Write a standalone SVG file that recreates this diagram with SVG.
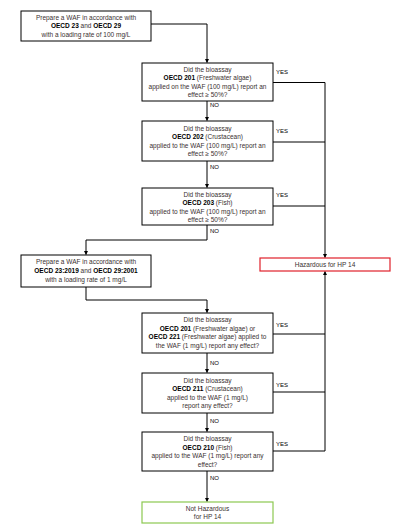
<svg xmlns="http://www.w3.org/2000/svg" width="401" height="527" viewBox="0 0 401 527">
<defs>
<marker id="ah" markerWidth="4" markerHeight="4" refX="3.5" refY="2" orient="auto" markerUnits="userSpaceOnUse">
<path d="M0,0 L4,2 L0,4 Z" fill="#000"/>
</marker>
<style>
.box{fill:#fff;stroke:#000;stroke-width:1}
.red{fill:#fff;stroke:#e0202a;stroke-width:1.2}
.green{fill:#fff;stroke:#8cc850;stroke-width:1.2}
.t{font-family:"Liberation Sans",Arial,sans-serif;font-size:6.5px;fill:#3a3030;text-anchor:middle}
.l{font-family:"Liberation Sans",Arial,sans-serif;font-size:6px;fill:#000}
.b{font-weight:bold;fill:#000}
.c{fill:none;stroke:#000;stroke-width:1}
</style>
</defs>
<rect width="401" height="527" fill="#fff"/>
<g id="connectors">
<path class="c" d="M151,24 H207 V62.5" marker-end="url(#ah)"/>
<path class="c" d="M207,101 V120.5" marker-end="url(#ah)"/>
<path class="c" d="M207,161 V187.5" marker-end="url(#ah)"/>
<path class="c" d="M207,225 V240 H86 V254.5" marker-end="url(#ah)"/>
<path class="c" d="M86,287 V300 H207 V312.5" marker-end="url(#ah)"/>
<path class="c" d="M207,353 V372.5" marker-end="url(#ah)"/>
<path class="c" d="M207,413 V431.5" marker-end="url(#ah)"/>
<path class="c" d="M207,471 V501.5" marker-end="url(#ah)"/>
<path class="c" d="M273,82.5 H325 V257.5" marker-end="url(#ah)"/>
<path class="c" d="M273,142 H325"/>
<path class="c" d="M273,206 H325"/>
<path class="c" d="M273,451 H325 V271.5" marker-end="url(#ah)"/>
<path class="c" d="M273,334 H325"/>
<path class="c" d="M273,392 H325"/>
<text class="l" x="276" y="74">YES</text>
<text class="l" x="276" y="133">YES</text>
<text class="l" x="276" y="197">YES</text>
<text class="l" x="276" y="327">YES</text>
<text class="l" x="276" y="387">YES</text>
<text class="l" x="276" y="446">YES</text>
<text class="l" x="210" y="107">NO</text>
<text class="l" x="210" y="169">NO</text>
<text class="l" x="210" y="233">NO</text>
<text class="l" x="210" y="365">NO</text>
<text class="l" x="210" y="423">NO</text>
<text class="l" x="210" y="480">NO</text>
</g>
<g id="n1">
<rect class="box" x="21" y="11" width="130" height="30"/>
<text class="t" x="86" y="19.5">Prepare a WAF in accordance with</text>
<text class="t" x="86" y="28"><tspan class="b">OECD 23</tspan> and <tspan class="b">OECD 29</tspan></text>
<text class="t" x="86" y="36.5">with a loading rate of 100 mg/L</text>
</g>
<g id="n2">
<rect class="box" x="142" y="63" width="131" height="38"/>
<text class="t" x="207.5" y="71.5">Did the bioassay</text>
<text class="t" x="207.5" y="80"><tspan class="b">OECD 201</tspan> (Freshwater algae)</text>
<text class="t" x="207.5" y="88.5">applied on the WAF (100 mg/L) report an</text>
<text class="t" x="207.5" y="97">effect ≥ 50%?</text>
</g>
<g id="n3">
<rect class="box" x="142" y="121" width="131" height="40"/>
<text class="t" x="207.5" y="130.5">Did the bioassay</text>
<text class="t" x="207.5" y="139"><tspan class="b">OECD 202</tspan> (Crustacean)</text>
<text class="t" x="207.5" y="147.5">applied to the WAF (100 mg/L) report an</text>
<text class="t" x="207.5" y="156">effect ≥ 50%?</text>
</g>
<g id="n4">
<rect class="box" x="142" y="188" width="131" height="37"/>
<text class="t" x="207.5" y="196.5">Did the bioassay</text>
<text class="t" x="207.5" y="205"><tspan class="b">OECD 203</tspan> (Fish)</text>
<text class="t" x="207.5" y="213.5">applied to the WAF (100 mg/L) report an</text>
<text class="t" x="207.5" y="222">effect ≥ 50%?</text>
</g>
<g id="n5">
<rect class="box" x="21" y="255" width="130" height="32"/>
<text class="t" x="86" y="264">Prepare a WAF in accordance with</text>
<text class="t" x="86" y="272.5"><tspan class="b">OECD 23:2019</tspan> and <tspan class="b">OECD 29:2001</tspan></text>
<text class="t" x="86" y="281.5">with a loading rate of 1 mg/L</text>
</g>
<g id="hazardous">
<rect class="red" x="260" y="258" width="130" height="13"/>
<text class="t" x="325" y="266.8">Hazardous for HP 14</text>
</g>
<g id="n6">
<rect class="box" x="142" y="313" width="131" height="40"/>
<text class="t" x="207.5" y="322">Did the bioassay</text>
<text class="t" x="207.5" y="330.5"><tspan class="b">OECD 201</tspan> (Freshwater algae) or</text>
<text class="t" x="207.5" y="339"><tspan class="b">OECD 221</tspan> (Freshwater algae) applied to</text>
<text class="t" x="207.5" y="347.5">the WAF (1 mg/L) report any effect?</text>
</g>
<g id="n7">
<rect class="box" x="142" y="373" width="131" height="40"/>
<text class="t" x="207.5" y="382.5">Did the bioassay</text>
<text class="t" x="207.5" y="391"><tspan class="b">OECD 211</tspan> (Crustacean)</text>
<text class="t" x="207.5" y="399.5">applied to the WAF (1 mg/L)</text>
<text class="t" x="207.5" y="408">report any effect?</text>
</g>
<g id="n8">
<rect class="box" x="142" y="432" width="131" height="39"/>
<text class="t" x="207.5" y="441">Did the bioassay</text>
<text class="t" x="207.5" y="449.5"><tspan class="b">OECD 210</tspan> (Fish)</text>
<text class="t" x="207.5" y="458">applied to the WAF (1 mg/L) report any</text>
<text class="t" x="207.5" y="466.5">effect?</text>
</g>
<g id="not-hazardous">
<rect class="green" x="142" y="502" width="131" height="21"/>
<text class="t" x="207.5" y="510.5">Not Hazardous</text>
<text class="t" x="207.5" y="519">for HP 14</text>
</g>
</svg>
